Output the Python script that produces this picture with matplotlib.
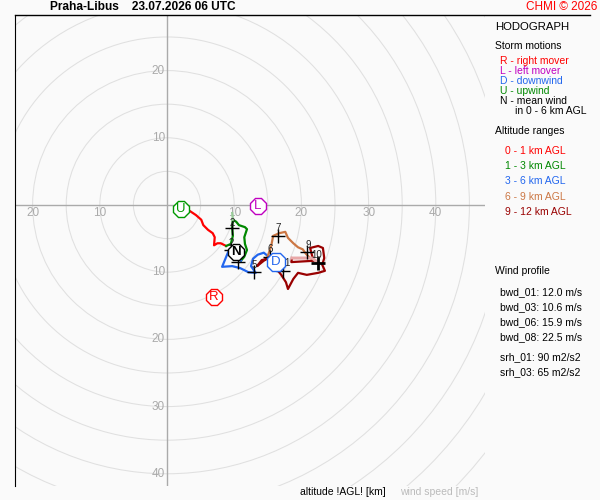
import numpy as np
import matplotlib
matplotlib.use("Agg")
from matplotlib import pyplot as plt
from matplotlib.patches import Circle

plt.rcParams['font.family'] = ['Liberation Sans', 'DejaVu Sans']

# hodograph segments, wind components u, v [m/s]
u_01 = [3.4, 4.3, 5.1, 5.4, 6.1, 6.8, 7.1, 7.0, 7.5, 8.0, 8.8]
v_01 = [-0.9, -1.5, -2.2, -3.0, -3.7, -4.2, -4.8, -6.0, -5.7, -5.7, -6.1]
u_13 = [8.8, 9.5, 9.8, 9.7, 9.8, 10.3, 10.7, 11.6, 11.9, 11.5, 11.6, 11.9, 11.5, 11.0]
v_13 = [-6.1, -5.8, -4.6, -3.4, -2.2, -2.5, -3.0, -3.3, -3.6, -4.8, -5.8, -6.7, -7.7, -8.3]
u_13b = [9.7, 9.8]
v_13b = [-1.2, -2.2]
u_36 = [11.0, 9.7, 9.1, 8.2, 9.7, 10.9, 12.1, 13.2, 12.5, 12.8, 13.5, 14.4, 15.0]
v_36 = [-8.3, -7.6, -7.0, -9.2, -9.1, -9.4, -10.0, -10.1, -9.1, -8.0, -7.4, -7.1, -7.6]
u_69 = [15.0, 15.5, 15.8, 16.7, 17.6, 18.0, 18.8, 19.5, 20.2, 20.7, 21.3, 21.9, 22.5]
v_69 = [-7.6, -6.1, -4.6, -4.2, -4.0, -4.9, -5.7, -6.3, -6.6, -7.3, -7.9, -8.3, -8.6]
u_912a = [22.5, 21.6, 18.6]
v_912a = [-8.6, -7.9, -7.9]
u_912 = [18.6, 18.5, 21.9, 21.6, 21.3, 22.5, 23.2, 23.4, 23.1, 23.5, 22.5, 20.8,
         19.5, 18.8, 18.0, 17.7, 17.0, 16.2, 15.0, 14.1, 13.4, 14.4, 15.3]
v_912 = [-7.9, -8.5, -8.3, -7.6, -6.4, -6.1, -6.4, -7.9, -8.9, -9.8, -10.1, -10.4,
         -10.1, -11.0, -12.5, -11.5, -10.4, -9.4, -8.0, -8.2, -9.1, -8.3, -7.7]

# altitude marks [km] (labels that show in the picture)
mark_lab = ['2', '2', '', '5', '6', '7', '9', '10', '1']
mark_u = [9.7, 9.5, 10.6, 13.0, 15.3, 16.5, 20.8, 22.5, 17.3]
mark_v = [-3.4, -6.7, -8.5, -10.0, -7.7, -4.6, -7.0, -8.6, -9.8]
mark_du = [0, 0, 0, 0, 0, 0, 0.2, -0.3, 0.6]
mark_dv = [0.75, 1.1, 1.1, 1.1, 1.1, 1.1, 1.1, 1.1, 1.1]

# storm motions
storm_lab = ['U', 'L', 'N', 'D', 'R']
storm_u = [2.1, 13.5, 10.3, 16.2, 7.0]
storm_v = [-0.6, -0.15, -7.0, -8.5, -13.7]
storm_col = ['#009900', '#c000c0', '#000000', '#2266ee', '#ff0000']

rings = np.arange(5, 70, 5)
xtick_vals = [-20, -10, 10, 20, 30, 40]
ytick_vals = [20, 10, -10, -20, -30, -40]

bg = '#fafafa'
fig = plt.figure(figsize=(6, 5), dpi=100, facecolor=bg)
ax = fig.add_axes([15/600, 14/500, 470/600, 471/500], facecolor=bg)
ax.set_xlim(-22.62, 47.32)
ax.set_ylim(-41.82, 28.27)
ax.set_aspect('equal')
ax.set_xticks([]), ax.set_yticks([])
for s in ['right', 'bottom', 'top']:
    ax.spines[s].set_visible(False)
ax.spines['left'].set_color('black')

for r in rings:
    ax.add_patch(Circle((0, 0), r, fill=False, ec='#e0e0e0', lw=0.75, zorder=1))
ax.axhline(0, color='#aaaaaa', lw=1, zorder=1)
ax.axvline(0, color='#aaaaaa', lw=1, zorder=1)
for x in xtick_vals:
    ax.text(x, -1.2, str(abs(x)), color='#aaaaaa', fontsize=8.5, ha='center', va='center', zorder=2)
for y in ytick_vals:
    ax.text(-0.3, y, str(abs(y)), color='#aaaaaa', fontsize=8.5, ha='right', va='center', zorder=2)

lw = 1.6
ax.plot(u_01, v_01, color='#ff0000', lw=lw, zorder=3)
ax.plot(u_13, v_13, color='#008800', lw=lw, zorder=3)
ax.plot(u_13b, v_13b, color='#99cc99', lw=lw, zorder=3)
ax.plot(u_36, v_36, color='#2266ee', lw=lw, zorder=3)
ax.plot(u_69, v_69, color='#cc7744', lw=lw, zorder=3)
ax.plot(u_912, v_912, color='#990000', lw=lw, zorder=3)
ax.plot(u_912a, v_912a, color='#e8a8a8', lw=lw+0.6, zorder=3)

for lab, u, v, du, dv in zip(mark_lab, mark_u, mark_v, mark_du, mark_dv):
    mew = 2 if lab == '10' else 1
    ax.plot(u, v, marker='+', ms=10, mew=mew, color='black', zorder=4)
    if lab:
        ax.text(u + du, v + dv, lab, fontsize=7, color='#222222', ha='center', va='center', zorder=5)

for lab, u, v, c in zip(storm_lab, storm_u, storm_v, storm_col):
    ms = 14 if lab == 'D' else 13
    ax.plot(u, v, marker='8', ms=ms, mfc='white', mec=c, mew=1, zorder=6)
    ax.text(u, v - 0.05, lab, fontsize=9.5, color=c, ha='center', va='center',
            fontweight='bold' if lab == 'N' else 'normal', zorder=7)

# header line and titles
fig.add_artist(plt.Line2D([15/600, 590/600], [485/500, 485/500], color='black', lw=1))
fig.text(50/600, 1 - 7/500, 'Praha-Libus    23.07.2026 06 UTC', fontsize=8.6,
         fontweight='bold', va='center', ha='left')
fig.text(597/600, 1 - 7/500, 'CHMI \u00a9 2026', fontsize=8.5, color='#ff0000',
         va='center', ha='right')

def ftext(x, y, s, c='black', fs=7.5):
    fig.text(x/600, 1 - y/500, s, fontsize=fs, color=c, va='center', ha='left')

ftext(495, 27, 'HODOGRAPH', fs=8.2)
ftext(495, 46, 'Storm motions')
motions = [('R - right mover', '#ff0000'), ('L - left mover', '#c000c0'),
           ('D - downwind', '#2266ee'), ('U - upwind', '#008800'),
           ('N - mean wind', 'black')]
for i, (s, c) in enumerate(motions):
    ftext(500, 61 + 10*i, s, c)
ftext(515, 111, 'in 0 - 6 km AGL')
ftext(495, 131, 'Altitude ranges')
ranges = [('0 - 1 km AGL', '#ff0000'), ('1 - 3 km AGL', '#008800'),
          ('3 - 6 km AGL', '#2266ee'), ('6 - 9 km AGL', '#cc7744'),
          ('9 - 12 km AGL', '#990000')]
for i, (s, c) in enumerate(ranges):
    ftext(505, 151 + 15.2*i, s, c)
ftext(495, 271, 'Wind profile')
profile = ['bwd_01: 12.0 m/s', 'bwd_03: 10.6 m/s', 'bwd_06: 15.9 m/s', 'bwd_08: 22.5 m/s']
for i, s in enumerate(profile):
    ftext(500, 292 + 15*i, s)
ftext(500, 357, 'srh_01: 90 m2/s2')
ftext(500, 372, 'srh_03: 65 m2/s2')
ftext(300, 492, 'altitude !AGL! [km]')
ftext(400, 492, 'wind speed [m/s]', c='#bbbbbb')

fig.savefig('out.png', dpi=100, facecolor=bg)
